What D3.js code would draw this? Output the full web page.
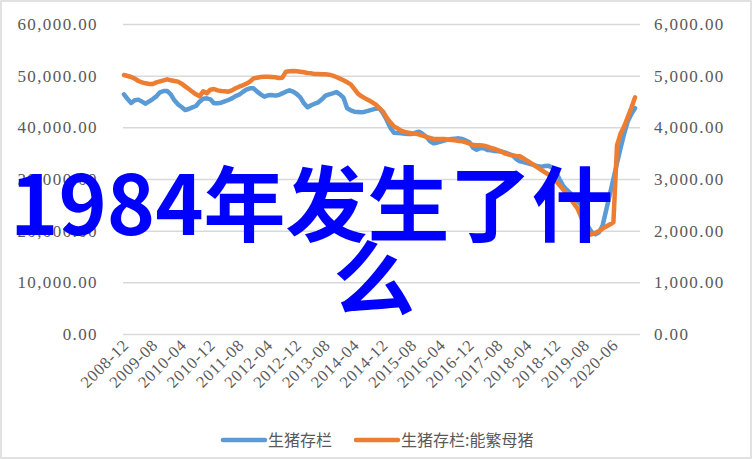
<!DOCTYPE html>
<html>
<head>
<meta charset="utf-8">
<script src="https://cdn.jsdelivr.net/npm/d3@7"></script>
<style>
html,body{margin:0;padding:0;background:#fff;}
svg{display:block;}
</style>
</head>
<body>
<svg id="chart" width="753" height="460"></svg>
<script>
// ---- data ----
const categories = [
 "2008-12",
 "2009-01","2009-02","2009-03","2009-04","2009-05","2009-06","2009-07","2009-08","2009-09","2009-10","2009-11","2009-12",
 "2010-01","2010-02","2010-03","2010-04","2010-05","2010-06","2010-07","2010-08","2010-09","2010-10","2010-11","2010-12",
 "2011-01","2011-02","2011-03","2011-04","2011-05","2011-06","2011-07","2011-08","2011-09","2011-10","2011-11","2011-12",
 "2012-01","2012-02","2012-03","2012-04","2012-05","2012-06","2012-07","2012-08","2012-09","2012-10","2012-11","2012-12",
 "2013-01","2013-02","2013-03","2013-04","2013-05","2013-06","2013-07","2013-08","2013-09","2013-10","2013-11","2013-12",
 "2014-01","2014-02","2014-03","2014-04","2014-05","2014-06","2014-07","2014-08","2014-09","2014-10","2014-11","2014-12",
 "2015-01","2015-02","2015-03","2015-04","2015-05","2015-06","2015-07","2015-08","2015-09","2015-10","2015-11","2015-12",
 "2016-01","2016-02","2016-03","2016-04","2016-05","2016-06","2016-07","2016-08","2016-09","2016-10","2016-11","2016-12",
 "2017-01","2017-02","2017-03","2017-04","2017-05","2017-06","2017-07","2017-08","2017-09","2017-10","2017-11","2017-12",
 "2018-01","2018-02","2018-03","2018-04","2018-05","2018-06","2018-07","2018-08","2018-09","2018-10","2018-11","2018-12",
 "2019-01","2019-02","2019-03","2019-04","2019-05","2019-06","2019-07","2019-08","2019-09","2019-10","2019-11","2019-12",
 "2020-03","2020-04","2020-05","2020-06","2020-07","2020-08","2020-09","2020-10","2020-11","2020-12"
];
const tickLabels = ["2008-12","2009-08","2010-04","2010-12","2011-08","2012-04","2012-12","2013-08","2014-04",
 "2014-12","2015-08","2016-04","2016-12","2017-08","2018-04","2018-12","2019-08","2020-06"];

const hogInventory = [
 46390,45480,44710,45230,45360,44970,44580,45030,45480,46000,46770,47030,47030,
 46390,45230,44450,43940,43360,43550,43870,44130,44970,45550,45610,45420,
 44650,44650,44770,45030,45290,45610,46060,46320,46840,47290,47550,47550,
 46900,46390,45940,46190,46260,46130,46260,46580,46900,47160,46900,46450,
 45810,44650,43870,44260,44580,44840,45420,46130,46390,46580,46840,46390,
 45740,43680,43290,43030,42970,42900,43030,43230,43420,43610,43680,42710,
 41420,39940,38970,38900,38840,38770,38710,38710,38970,39160,38710,38190,
 37350,36900,37030,37230,37420,37610,37740,37810,37870,37740,37420,37100,
 36060,35680,36000,35940,35610,35550,35420,35350,35290,35100,34840,34580,
 33870,33420,33290,33100,32900,32710,32450,32390,32520,32580,32190,31420,
 30000,28710,27930,27290,26520,25740,24970,22520,20770,19680,19290,19680,
 21000,24000,27000,30000,33100,36000,38800,41200,42600,43700
];
const sowInventory = [
 5013,4994,4974,4942,4897,4871,4852,4839,4839,4871,4890,4910,4929,
 4910,4897,4884,4845,4794,4742,4690,4639,4600,4697,4658,4729,
 4742,4716,4703,4697,4690,4716,4755,4787,4813,4845,4884,4948,
 4961,4974,4981,4981,4974,4968,4955,4961,5077,5084,5090,5084,
 5077,5065,5052,5045,5032,5032,5026,5026,5019,5000,4974,4942,
 4910,4871,4832,4742,4652,4600,4561,4523,4484,4439,4368,4303,
 4187,4097,4019,3981,3935,3910,3897,3884,3877,3858,3839,3813,
 3794,3774,3774,3774,3774,3761,3755,3748,3735,3729,3710,3684,
 3658,3652,3652,3645,3626,3600,3581,3555,3529,3490,3471,3458,
 3445,3439,3400,3355,3310,3264,3219,3174,3129,3084,3032,2961,
 2884,2800,2716,2619,2529,2432,2271,2077,1916,1930,1960,1990,
 2040,2080,2120,2160,3650,3880,4020,4200,4380,4580
];
const leftTicks = [0,10000,20000,30000,40000,50000,60000];
const rightTicks = [0,1000,2000,3000,4000,5000,6000];
const seriesNames = ["生猪存栏","生猪存栏:能繁母猪"];
const seriesColors = ["#5B9BD5","#ED7D31"];
const overlayLines = ["1984年发生了什","么"];

// ---- layout ----
const svg = d3.select("#chart");
const plotLeft = 123, plotRight = 640, plotTop = 24, plotBottom = 334;

svg.append("rect").attr("x",1).attr("y",1).attr("width",750).attr("height",457)
  .attr("fill","#fff").attr("stroke","#D9D9D9").attr("stroke-width",1.5);

const x = d3.scalePoint().domain(categories).range([124, 635]);
const yL = d3.scaleLinear().domain([0,60000]).range([plotBottom, plotTop]);
const yR = d3.scaleLinear().domain([0,6000]).range([plotBottom, plotTop]);

const numFmt = d3.format(",.2f");
const tickFont = "'Liberation Serif', 'DejaVu Serif', serif";

// gridlines
const grid = svg.append("g").attr("transform",`translate(${plotLeft},0)`)
  .call(d3.axisLeft(yL).tickValues(leftTicks).tickSize(-(plotRight-plotLeft)).tickFormat(""));
grid.select(".domain").remove();
grid.selectAll("line").attr("stroke","#D9D9D9").attr("stroke-width",1.5);

// left axis
const gl = svg.append("g").attr("transform",`translate(${plotLeft},0)`)
  .call(d3.axisLeft(yL).tickValues(leftTicks).tickSize(0).tickPadding(25).tickFormat(numFmt));
gl.select(".domain").remove();
gl.selectAll("text").attr("font-family",tickFont).attr("font-size",17)
  .attr("letter-spacing","1.4px").attr("fill","#595959");

// right axis
const gr = svg.append("g").attr("transform",`translate(${plotRight},0)`)
  .call(d3.axisRight(yR).tickValues(rightTicks).tickSize(0).tickPadding(14).tickFormat(numFmt));
gr.select(".domain").remove();
gr.selectAll("text").attr("font-family",tickFont).attr("font-size",17)
  .attr("letter-spacing","1.4px").attr("fill","#595959");

// x axis labels
const gx = svg.append("g");
gx.selectAll("text").data(tickLabels).join("text")
  .attr("transform", d => `translate(${x(d)+6},346) rotate(-45)`)
  .attr("text-anchor","end")
  .attr("font-family",tickFont).attr("font-size",16.5).attr("letter-spacing","0.8px")
  .attr("fill","#595959")
  .text(d => d);

// lines
const lineL = d3.line().x((d,i)=>x(categories[i])).y(d=>yL(d)).curve(d3.curveLinear);
const lineR = d3.line().x((d,i)=>x(categories[i])).y(d=>yR(d)).curve(d3.curveLinear);
svg.append("path").datum(hogInventory).attr("d",lineL)
  .attr("fill","none").attr("stroke",seriesColors[0]).attr("stroke-width",4.5)
  .attr("stroke-linejoin","round").attr("stroke-linecap","round");
svg.append("path").datum(sowInventory).attr("d",lineR)
  .attr("fill","none").attr("stroke",seriesColors[1]).attr("stroke-width",4.5)
  .attr("stroke-linejoin","round").attr("stroke-linecap","round");

// legend
const legendX = [223, 356];
const lg = svg.append("g");
seriesNames.forEach((name,i)=>{
  lg.append("line").attr("x1",legendX[i]).attr("x2",legendX[i]+42).attr("y1",440).attr("y2",440)
    .attr("stroke",seriesColors[i]).attr("stroke-width",4.5).attr("stroke-linecap","round");
  lg.append("text").attr("x",legendX[i]+45).attr("y",440).attr("dy","0.35em")
    .attr("font-family","'Noto Sans CJK SC', sans-serif").attr("font-size",16)
    .attr("fill","#595959").text(name);
});

// overlay text
const ov = svg.append("g");
ov.append("text").attr("x",10).attr("y",235)
  .attr("font-family","'Noto Sans CJK SC', sans-serif").attr("font-weight","bold")
  .attr("font-size",82).attr("fill","#0000FF").text(overlayLines[0]);
ov.append("text").attr("x",333).attr("y",309)
  .attr("font-family","'Noto Sans CJK SC', sans-serif").attr("font-weight","bold")
  .attr("font-size",82).attr("fill","#0000FF").text(overlayLines[1]);
</script>
</body>
</html>
